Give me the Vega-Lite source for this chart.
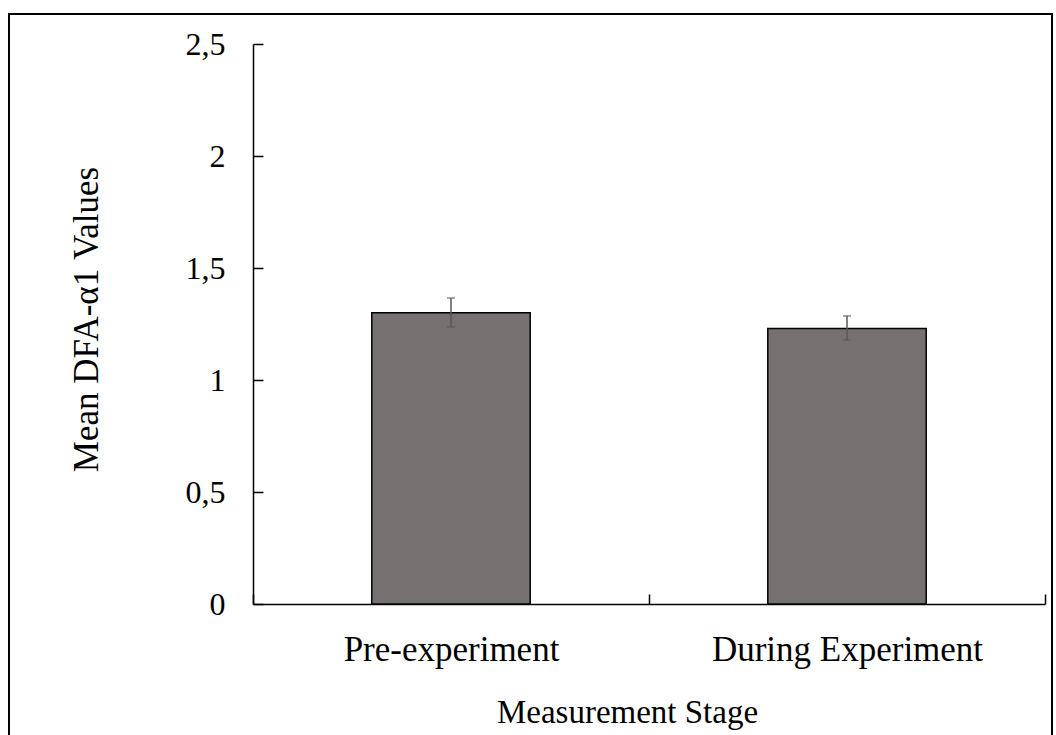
{
  "$schema": "https://vega.github.io/schema/vega-lite/v6.json",
  "width": 792,
  "height": 560,
  "autosize": {"type": "none"},
  "padding": {"left": 253, "top": 44, "right": 11, "bottom": 131},
  "background": "white",
  "data": {
    "values": [
      {"stage": "Pre-experiment", "mean": 1.30, "lower": 1.237, "upper": 1.366},
      {"stage": "During Experiment", "mean": 1.23, "lower": 1.179, "upper": 1.286}
    ]
  },
  "config": {
    "font": "Liberation Serif",
    "view": {"stroke": null},
    "axis": {
      "domainColor": "black",
      "domainWidth": 1.5,
      "tickColor": "black",
      "tickWidth": 1.5,
      "labelColor": "black",
      "titleColor": "black",
      "labelFont": "Liberation Serif",
      "titleFont": "Liberation Serif",
      "titleFontWeight": "normal",
      "labelLimit": 0,
      "titleLimit": 0,
      "grid": false,
      "ticks": true,
      "tickSize": -10,
      "labelPadding": 38,
      "zindex": 1
    },
    "axisX": {
      "labelFontSize": 35,
      "titleFontSize": 33
    },
    "axisY": {
      "labelFontSize": 32,
      "titleFontSize": 35
    }
  },
  "layer": [
    {
      "mark": {"type": "rect", "filled": false, "stroke": "black", "strokeWidth": 2, "clip": false},
      "encoding": {
        "x": {"value": -244},
        "x2": {"value": 799},
        "y": {"value": -30},
        "y2": {"value": 740}
      }
    },
    {
      "mark": {"type": "bar", "color": "#767171", "stroke": "black", "strokeWidth": 1.5, "width": {"band": 0.4}},
      "encoding": {
        "x": {
          "field": "stage",
          "type": "nominal",
          "sort": ["Pre-experiment", "During Experiment"],
          "scale": {"paddingInner": 0, "paddingOuter": 0},
          "axis": {
            "title": "Measurement Stage",
            "labelAngle": 0,
            "ticks": true,
            "tickSize": -10,
            "tickColor": "black",
            "tickWidth": 1.5,
            "tickBand": "extent",
            "titleX": 374,
            "titleY": 108,
            "titleBaseline": "middle",
            "titleAlign": "center"
          }
        },
        "y": {
          "field": "mean",
          "type": "quantitative",
          "title": "Mean DFA-α1 Values",
          "scale": {"domain": [0, 2.5], "nice": false},
          "axis": {
            "values": [0, 0.5, 1, 1.5, 2, 2.5],
            "labelExpr": "replace(format(datum.value, '~g'), '.', ',')",
            "titleX": -167,
            "titleY": 275,
            "titleBaseline": "middle",
            "titleAlign": "center",
            "titleAngle": -90
          }
        }
      }
    },
    {
      "mark": {"type": "errorbar", "ticks": {"size": 8, "color": "#595959", "strokeWidth": 1.5}, "color": "#595959", "thickness": 1.5},
      "encoding": {
        "x": {"field": "stage", "type": "nominal", "sort": ["Pre-experiment", "During Experiment"], "title": "Measurement Stage"},
        "y": {"field": "lower", "type": "quantitative", "title": "Mean DFA-α1 Values"},
        "y2": {"field": "upper"}
      }
    }
  ]
}
